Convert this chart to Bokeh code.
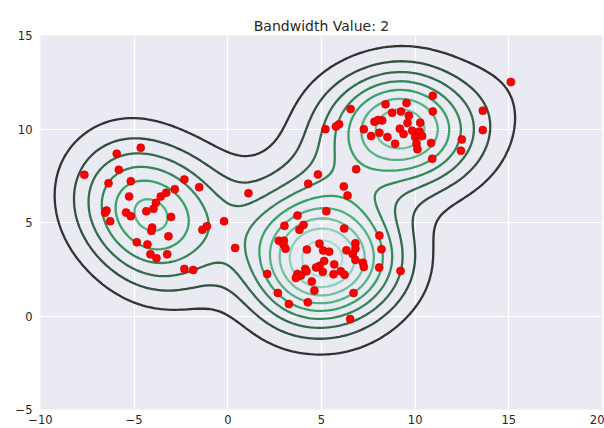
import numpy as np
from collections import defaultdict
from bokeh.plotting import figure
from bokeh.models import Range1d, FixedTicker, ColumnDataSource
from bokeh.embed import file_html
from bokeh.resources import INLINE

# ---- data ----
left_x = [-4.65, -5.93, -7.66, -5.82, -6.37, -5.18, -2.32, -1.53, -2.83, -3.29, -3.58, -5.27,
          -3.84, -3.97, -4.35, -6.48, -6.55, -5.43, -5.18, -6.28, -3.03, -4.04, -4.08, -1.12,
          -1.36, -3.17, -4.86, -4.29, -4.13, -3.81, -3.24, -2.32, -1.85]
left_y = [9.00, 8.68, 7.55, 7.82, 7.10, 7.21, 7.30, 6.89, 6.78, 6.59, 6.39, 6.39,
          6.05, 5.73, 5.60, 5.64, 5.52, 5.53, 5.34, 5.07, 5.30, 4.73, 4.55, 4.80,
          4.61, 4.26, 3.94, 3.83, 3.30, 3.09, 3.30, 2.52, 2.46]

misc_x = [-0.20, 0.39, 1.10, 6.85, 4.81]
misc_y = [5.07, 3.64, 6.57, 7.85, 7.57]

mid_x = [4.29, 6.19, 6.39, 5.26, 3.72, 3.02, 4.04, 3.82, 6.21, 8.09, 2.72, 2.99, 2.97, 3.08,
         4.89, 6.81, 6.81, 8.20, 4.22, 5.09, 5.41, 6.33, 6.67, 6.81, 5.14, 7.21, 7.26, 5.68,
         4.89, 4.71, 4.13, 4.20, 3.72, 3.90, 3.63, 5.07, 5.64, 6.03, 6.23, 8.08, 9.22, 2.10,
         4.48, 4.62, 2.67, 6.71, 3.26, 4.27, 6.53]
mid_y = [7.07, 6.93, 6.44, 5.60, 5.37, 4.82, 4.87, 4.61, 4.68, 4.30, 4.03, 4.03, 3.82, 3.60,
         3.87, 3.89, 3.60, 3.57, 3.55, 3.50, 3.44, 3.51, 3.30, 3.00, 2.94, 2.85, 2.62, 2.76,
         2.68, 2.59, 2.52, 2.39, 2.25, 2.16, 2.03, 2.36, 2.23, 2.39, 2.21, 2.59, 2.41, 2.25,
         1.85, 1.36, 1.23, 1.23, 0.64, 0.73, -0.16]

up_x = [15.11, 10.94, 13.61, 8.42, 9.54, 6.55, 8.77, 9.24, 9.66, 10.94, 7.83, 8.24, 8.02,
        9.59, 10.27, 5.94, 5.77, 5.21, 7.26, 9.18, 9.84, 10.23, 8.09, 9.38, 7.65, 8.52, 10.00,
        10.37, 13.61, 12.49, 10.85, 10.07, 8.93, 10.12, 10.91, 12.44]
up_y = [12.51, 11.78, 10.98, 11.32, 11.39, 11.07, 10.87, 10.93, 10.71, 10.94, 10.39, 10.46, 10.48,
        10.32, 10.34, 10.25, 10.14, 9.99, 9.99, 10.02, 9.91, 9.87, 9.80, 9.73, 9.62, 9.57, 9.57,
        9.62, 9.94, 9.44, 9.25, 9.21, 9.21, 8.92, 8.41, 8.84]

bandwidth = 2.0
title_text = "Bandwidth Value: 2"
x_ticks = [-10, -5, 0, 5, 10, 15, 20]
y_ticks = [-5, 0, 5, 10, 15]
tick_labels = {-10: "\u221210", -5: "\u22125"}

px = np.array(left_x + misc_x + mid_x + up_x)
py = np.array(left_y + misc_y + mid_y + up_y)

# ---- Gaussian KDE on a grid (product kernel, bw in data units) ----
cut = 3
gs = 180
gx = np.linspace(px.min() - cut * bandwidth, px.max() + cut * bandwidth, gs)
gy = np.linspace(py.min() - cut * bandwidth, py.max() + cut * bandwidth, gs)
norm = 1.0 / (np.sqrt(2 * np.pi) * bandwidth)
kx = norm * np.exp(-0.5 * ((gx[:, None] - px[None, :]) / bandwidth) ** 2)
ky = norm * np.exp(-0.5 * ((gy[:, None] - py[None, :]) / bandwidth) ** 2)
Z = ky @ kx.T / len(px)  # shape (ny, nx)


def nice_levels(zmin, zmax, nbins=11):
    raw = (zmax - zmin) / nbins
    mag = 10 ** np.floor(np.log10(raw))
    for s in [1, 2, 2.5, 5, 10]:
        step = s * mag
        lo = np.floor(zmin / step) * step
        hi = np.ceil(zmax / step) * step
        if (hi - lo) / step <= nbins + 1e-9:
            break
    return np.arange(lo, hi + step * 0.5, step)


all_levels = nice_levels(Z.min(), Z.max())
draw_levels = all_levels[(all_levels > Z.min()) & (all_levels < Z.max())]

# colormap: BuGn_d style blend (dark grey -> green -> light mint)
anchors = [np.array([51, 51, 51]), np.array([55, 162, 102]), np.array([170, 223, 211])]


def cmap(t):
    t = min(max(t, 0.0), 1.0)
    if t <= 0.5:
        c = anchors[0] + (anchors[1] - anchors[0]) * (t / 0.5)
    else:
        c = anchors[1] + (anchors[2] - anchors[1]) * ((t - 0.5) / 0.5)
    return "#%02x%02x%02x" % tuple(int(round(v)) for v in c)


def contour_lines(xs, ys, Z, L):
    ny, nx = Z.shape
    above = Z > L

    def pt(edge):
        kind, i, j = edge
        if kind == 'h':
            z0, z1 = Z[i, j], Z[i, j + 1]
            t = (L - z0) / (z1 - z0)
            return (xs[j] + t * (xs[j + 1] - xs[j]), ys[i])
        z0, z1 = Z[i, j], Z[i + 1, j]
        t = (L - z0) / (z1 - z0)
        return (xs[j], ys[i] + t * (ys[i + 1] - ys[i]))

    segs = []
    for i in range(ny - 1):
        for j in range(nx - 1):
            b0, b1, b2, b3 = above[i, j], above[i, j + 1], above[i + 1, j + 1], above[i + 1, j]
            if b0 == b1 == b2 == b3:
                continue
            bottom = ('h', i, j)
            right = ('v', i, j + 1)
            top = ('h', i + 1, j)
            left = ('v', i, j)
            cross = []
            if b0 != b1:
                cross.append(bottom)
            if b1 != b2:
                cross.append(right)
            if b2 != b3:
                cross.append(top)
            if b3 != b0:
                cross.append(left)
            if len(cross) == 2:
                segs.append((cross[0], cross[1]))
            else:
                center = Z[i:i + 2, j:j + 2].mean() > L
                if center == b0:
                    segs.append((bottom, right))
                    segs.append((top, left))
                else:
                    segs.append((left, bottom))
                    segs.append((right, top))
    adj = defaultdict(list)
    for k, (a, b) in enumerate(segs):
        adj[a].append(k)
        adj[b].append(k)
    used = [False] * len(segs)
    lines = []
    for k in range(len(segs)):
        if used[k]:
            continue
        used[k] = True
        chain = [segs[k][0], segs[k][1]]
        for direction in (1, 0):
            while True:
                end = chain[-1] if direction else chain[0]
                nxt = [m for m in adj[end] if not used[m]]
                if not nxt:
                    break
                m = nxt[0]
                used[m] = True
                s = segs[m]
                other = s[1] if s[0] == end else s[0]
                if direction:
                    chain.append(other)
                else:
                    chain.insert(0, other)
        pts = [pt(e) for e in chain]
        lines.append(([q[0] for q in pts], [q[1] for q in pts]))
    return lines


lx, ly, lc = [], [], []
vmin, vmax = draw_levels.min(), draw_levels.max()
for L in draw_levels:
    t = (L - vmin) / (vmax - vmin) if vmax > vmin else 0.0
    col = cmap(t)
    for xs_, ys_ in contour_lines(gx, gy, Z, L):
        lx.append(xs_)
        ly.append(ys_)
        lc.append(col)

# ---- figure ----
p = figure(width=604, height=428, x_range=Range1d(-10, 20), y_range=Range1d(-5, 15),
           output_backend="svg", toolbar_location=None,
           min_border_left=40, min_border_right=2, min_border_top=35, min_border_bottom=19,
           background_fill_color="#EAEAF2", border_fill_color="white",
           outline_line_color=None, title=title_text)
p.title.align = "center"
p.title.text_font = "DejaVu Sans"
p.title.text_font_size = "14px"
p.title.text_font_style = "normal"
p.title.text_color = "#262626"
p.title.standoff = 3

for g in (p.xgrid, p.ygrid):
    g.grid_line_color = "white"
    g.grid_line_width = 1.2

p.xaxis.ticker = FixedTicker(ticks=x_ticks)
p.yaxis.ticker = FixedTicker(ticks=y_ticks)
p.xaxis.major_label_overrides = tick_labels
p.yaxis.major_label_overrides = tick_labels
for ax in (p.xaxis, p.yaxis):
    ax.axis_line_color = None
    ax.major_tick_line_color = None
    ax.minor_tick_line_color = None
    ax.major_tick_out = 0
    ax.major_tick_in = 0
    ax.major_label_text_font = "DejaVu Sans"
    ax.major_label_text_font_size = "11.5px"
    ax.major_label_text_color = "#262626"
p.yaxis.major_label_standoff = 8
p.xaxis.major_label_standoff = 5

src = ColumnDataSource(dict(xs=lx, ys=ly, color=lc))
p.multi_line(xs="xs", ys="ys", line_color="color", line_width=2.3, source=src)

p.scatter(px, py, size=8, fill_color="#ff0000", line_color="#c00000", line_width=0.6)

open("out.html", "w").write(file_html(p, INLINE))
